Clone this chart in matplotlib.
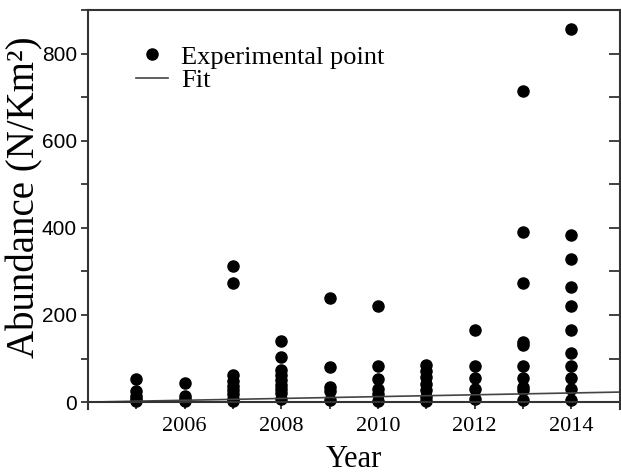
import matplotlib
matplotlib.use("Agg")
import matplotlib.pyplot as plt
from matplotlib.ticker import MultipleLocator, FixedLocator

# data
years = [2005, 2006, 2007, 2008, 2009, 2010, 2011, 2012, 2013, 2014]
abundance = [
    [53, 25, 15, 8, 3],
    [43, 15, 8, 3],
    [312, 273, 62, 48, 38, 28, 18, 8, 2],
    [140, 103, 73, 62, 50, 40, 30, 20, 8],
    [240, 81, 34, 25, 5],
    [220, 83, 52, 30, 18, 3],
    [85, 72, 57, 42, 28, 12, 3],
    [165, 83, 55, 30, 8],
    [713, 391, 274, 138, 131, 83, 55, 35, 27, 5],
    [857, 384, 329, 264, 221, 165, 112, 83, 55, 30, 5],
]
fit_years = [2004, 2015]
fit_values = [0, 23]
xtick_years = [2006, 2008, 2010, 2012, 2014]

xs = []
ys = []
for yr, vals in zip(years, abundance):
    for v in vals:
        xs.append(yr)
        ys.append(v)

fig = plt.figure(figsize=(6.21, 4.74), dpi=100)
ax = fig.add_axes([0.1417, 0.137, 0.856, 0.842])

ax.plot(xs, ys, 'o', color='black', markersize=8, label='Experimental point')
ax.plot(fit_years, fit_values, '-', color='#444444', linewidth=1.2, label='Fit')

ax.set_xlim(2004, 2015)
ax.set_ylim(-16, 900)

ax.spines['bottom'].set_position(('data', 0))
for s in ax.spines.values():
    s.set_linewidth(1.5)
    s.set_color('#333333')

ax.xaxis.set_major_locator(FixedLocator(xtick_years))
ax.xaxis.set_minor_locator(MultipleLocator(1))
ax.yaxis.set_major_locator(MultipleLocator(200))
ax.yaxis.set_minor_locator(MultipleLocator(100))
ax.tick_params(which='both', direction='out', length=5, width=1.3, color='#333333')
ax.tick_params(axis='y', labelsize=15, pad=3)
ax.tick_params(axis='x', labelsize=16, pad=6)
for lab in ax.get_xticklabels():
    lab.set_fontfamily('Liberation Serif')
for lab in ax.get_yticklabels():
    lab.set_fontfamily('Liberation Sans')

# right side: inward ticks, no labels
ax2 = ax.twinx()
ax2.set_ylim(ax.get_ylim())
ax2.yaxis.set_major_locator(MultipleLocator(200))
ax2.yaxis.set_minor_locator(MultipleLocator(100))
ax2.tick_params(which='both', direction='in', length=8, width=1.3, color='#333333', labelright=False)
for s in ax2.spines.values():
    s.set_visible(False)

ax.set_xlabel('Year', fontfamily='Liberation Serif', fontsize=22)
ax.set_ylabel('Abundance (N/Km²)', fontfamily='Liberation Serif', fontsize=28)
ax.xaxis.set_label_coords(0.5, -0.09)
ax.yaxis.set_label_coords(-0.084, 0.531)

leg = ax.legend(loc='upper left', bbox_to_anchor=(0.066, 0.945), frameon=False,
                prop={'family': 'Liberation Serif', 'size': 19},
                handlelength=1.2, handletextpad=0.5, labelspacing=0.0, borderpad=0)

fig.savefig('out.png', dpi=100)
